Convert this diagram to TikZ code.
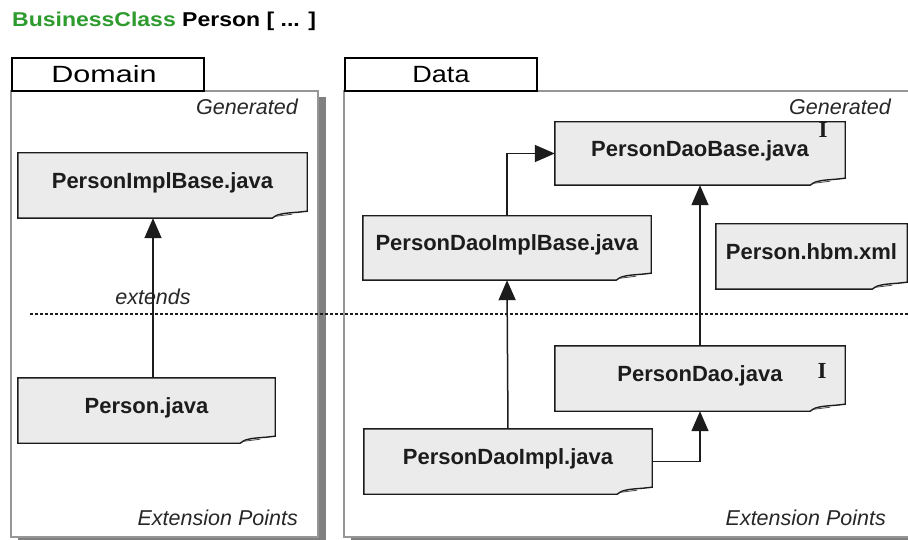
\documentclass[tikz,border=0pt]{standalone}
\usepackage{fontspec}
\setmainfont{Liberation Sans}
\newfontfamily\titlefont[FakeStretch=1.15]{Liberation Sans}
\newfontfamily\domainfont[FakeStretch=1.3]{Liberation Sans}
\newfontfamily\datafont[FakeStretch=1.15]{Liberation Sans}
\newfontfamily\markfont{Liberation Serif}
\usetikzlibrary{arrows.meta}

\pgfdeclarelayer{panel}
\pgfdeclarelayer{sheet}
\pgfsetlayers{panel,sheet,main}

\definecolor{bcgreen}{RGB}{46,155,46}
\definecolor{sheetfill}{RGB}{235,235,235}
\definecolor{panelline}{RGB}{150,150,150}
\definecolor{panelshadow}{RGB}{128,128,128}
\definecolor{ink}{RGB}{28,28,28}

% file sheet with a curled lower right corner, drawn behind node #1
\newcommand{\docsheet}[1]{%
  \begin{pgfonlayer}{sheet}
    \draw[sheetline]
      (#1.north west) -- (#1.north east)
      -- ([yshift=7pt]#1.south east)
      -- ([xshift=-9pt,yshift=6pt]#1.south east)
      .. controls ([xshift=-24pt,yshift=5pt]#1.south east)
             and ([xshift=-31pt,yshift=4pt]#1.south east)
      .. ([xshift=-35pt]#1.south east)
      -- (#1.south west) -- cycle;
    \draw[curlline] ([xshift=-31pt,yshift=2pt]#1.south east)
      -- ([xshift=-15pt,yshift=4pt]#1.south east);
  \end{pgfonlayer}}

\begin{document}
\begin{tikzpicture}[x=1pt,y=-1pt,
  sheetline/.style={draw=ink, fill=sheetfill, line width=1.4pt, line join=miter},
  curlline/.style={draw=ink!80, line width=0.8pt},
  doc/.style={inner sep=0pt, minimum height=65pt, text height=12pt, text depth=6pt,
    text=ink, font=\fontsize{22}{26}\selectfont\bfseries},
  tab/.style={draw=black, fill=white, line width=1.3pt, inner sep=0pt,
    minimum width=192pt, minimum height=33pt, text height=16.5pt, text depth=0pt},
  note/.style={inner sep=0pt, text=ink!95, font=\fontsize{21.5}{25}\selectfont\itshape},
  ifacemark/.style={inner sep=0pt, text=ink, font=\fontsize{23}{26}\markfont\bfseries},
  inherit/.style={draw=ink, line width=1.5pt, -{Triangle[length=20pt,width=17pt]}},
  divider/.style={draw=ink, line width=1.2pt, dash pattern=on 3pt off 2pt},
  frame/.style={draw=panelline, fill=white, line width=1.2pt},
  frameshadow/.style={fill=panelshadow}
]
\useasboundingbox (0,0) rectangle (908,540);
\clip (0,0) rectangle (908,540);

% heading
\node[anchor=base west, inner sep=0pt, font={\fontsize{20}{24}\titlefont\bfseries}]
  (title) at (12,27) {\textcolor{bcgreen}{BusinessClass} Person [ ... ]};

% the two panels with their shadows
\begin{pgfonlayer}{panel}
  \fill[frameshadow] (18,97) rectangle (326,544);
  \draw[frame] (11,91) rectangle (318,537);
  \fill[frameshadow] (351,97) rectangle (930,544);
  \draw[frame] (344,91) rectangle (922,537);
\end{pgfonlayer}

% panel tabs
\node[tab] (domaintab) at (108,74.5) {\fontsize{23.5}{26}\domainfont Domain\hspace*{8pt}};
\node[tab] (datatab) at (441,74.5) {\fontsize{23.5}{26}\datafont Data};

% panel notes
\node[note, anchor=base east] (gendomain) at (298,115) {Generated};
\node[note, anchor=base east] (gendata) at (891,115) {Generated};
\node[note, anchor=base east] (extdomain) at (298,525) {Extension Points};
\node[note, anchor=base east] (extdata) at (886,525) {Extension Points};
\node[note, anchor=base] (extends) at (153,305) {extends};

% generated / extension divider
\draw[divider] (30,314) -- (908,314);

% domain files
\node[doc, minimum width=289pt] (implbase) at (162.5,185.5) {PersonImplBase.java};
\node[doc, minimum width=257pt] (person) at (146.5,410.5) {Person.java};

% data files
\node[doc, minimum width=290pt, minimum height=63pt] (daobase) at (700,153.5) {PersonDaoBase.java};
\node[doc, minimum width=288pt, minimum height=64pt] (daoimplbase) at (507,248) {PersonDaoImplBase.java};
\node[doc, minimum width=191pt] (hbm) at (811.5,256.5) {Person.hbm.xml};
\node[doc, minimum width=290pt] (dao) at (700,378.5) {PersonDao.java};
\node[doc, minimum width=288pt] (daoimpl) at (508,461.5) {PersonDaoImpl.java};

\docsheet{implbase}
\docsheet{person}
\docsheet{daobase}
\docsheet{daoimplbase}
\docsheet{hbm}
\docsheet{dao}
\docsheet{daoimpl}

% interface markers
\node[ifacemark] (markbase) at (823,130) {I};
\node[ifacemark] (markdao) at (822,371) {I};

% inheritance connectors
\coordinate (extendsx) at (153,0);
\draw[inherit] (person.north -| extendsx) -- (implbase.south -| extendsx);
\draw[inherit] (daoimplbase.north) |- (daobase.west);
\draw[inherit] (dao.north) -- (daobase.south);
\draw[inherit] (daoimpl.north) -- (daoimplbase.south);
\draw[inherit] (daoimpl.east) -| (dao.south);
\end{tikzpicture}
\end{document}
